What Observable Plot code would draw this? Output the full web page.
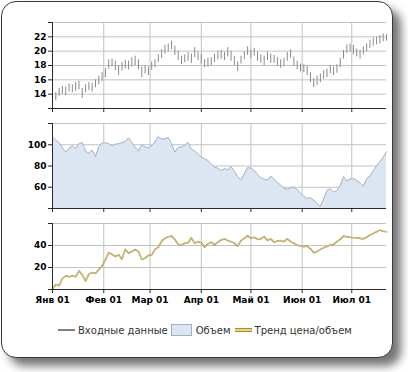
<!DOCTYPE html>
<html>
<head>
<meta charset="utf-8">
<script src="https://cdn.jsdelivr.net/npm/d3@7"></script>
<script src="https://cdn.jsdelivr.net/npm/@observablehq/plot@0.6"></script>
<style>
  html, body { margin: 0; padding: 0; background: #fff; }
  body { width: 408px; height: 372px; position: relative; overflow: hidden; font-family: "DejaVu Sans", sans-serif; }
  #frame { position: absolute; left: 1px; top: 1px; width: 390px; height: 355px; border: 1.5px solid #3a3a3a; border-radius: 15px; background: #fff; box-shadow: 8px 8px 10px rgba(0,0,0,0.55); }
  .panel { position: absolute; left: 0; }
  #legend { position: absolute; top: 324px; left: 58px; display: flex; align-items: center; font-size: 10px; color: #333; white-space: nowrap; }
  .sw-line { width: 17px; height: 2px; background: #808080; margin-right: 3px; }
  .sw-box { width: 19px; height: 10px; background: #dce6f2; border: 1px solid #9fb0c8; margin: 0 4px 0 3px; }
  .sw-gold { width: 17px; height: 2px; background: #f0d27a; border-top: 1px solid #a88a40; border-bottom: 1px solid #a88a40; margin: 0 3px 0 4px; }
</style>
</head>
<body>
<div id="frame"></div>
<div id="p1" class="panel" style="top:0px"></div>
<div id="p2" class="panel" style="top:114px"></div>
<div id="p3" class="panel" style="top:214px"></div>
<div id="legend">
  <div class="sw-line"></div><span>Входные данные</span>
  <div class="sw-box"></div><span>Объем</span>
  <div class="sw-gold"></div><span>Тренд цена/объем</span>
</div>
<script>
// ---- data (sampled every 2 days from 1 Jan 2001) ----
const startDate = [2001, 0, 1];
const stepDays = 2;
const priceLow = [12.9,13.1,13.7,14.0,13.8,14.3,14.2,14.4,14.6,13.4,14.2,14.5,14.3,14.9,15.3,15.8,16.3,17.5,17.8,17.3,
  16.6,17.2,17.5,17.4,17.8,18.0,17.4,16.3,16.8,16.6,17.3,17.7,18.4,19.0,19.6,19.9,20.2,19.4,18.7,18.1,
  18.4,18.6,18.3,19.1,18.7,18.2,17.7,17.8,18.0,18.4,18.8,18.9,18.7,19.2,18.6,18.0,17.1,18.2,18.8,19.4,
  19.0,19.3,18.6,18.3,18.0,18.7,18.3,18.3,17.9,17.6,17.8,18.6,19.0,17.9,17.4,17.1,17.0,16.6,15.6,14.9,
  15.2,15.6,16.1,16.3,16.8,16.6,16.9,17.7,18.9,19.7,19.9,19.5,19.2,18.9,19.5,19.9,20.4,20.7,20.9,21.0,
  21.3,21.4];
const priceHigh = [13.9,14.2,14.8,15.1,15.0,15.4,15.3,15.6,15.8,14.8,15.3,15.6,15.5,16.0,16.5,17.0,17.6,18.8,18.9,18.6,
  18.0,18.4,18.7,18.6,19.1,19.3,18.8,17.8,18.0,17.8,18.5,18.8,19.5,20.2,20.8,21.0,21.4,20.7,20.0,19.3,
  19.5,19.8,19.6,20.5,19.9,19.6,18.8,19.0,19.1,19.6,20.0,20.1,19.8,20.5,20.0,19.3,18.5,19.3,19.9,20.6,
  20.1,20.4,19.9,19.5,19.3,19.9,19.6,19.4,19.1,18.8,19.0,19.8,20.2,19.2,18.6,18.2,18.1,17.9,17.0,16.2,
  16.5,16.8,17.3,17.5,18.0,17.8,18.1,19.0,20.1,20.9,21.0,20.8,20.3,20.1,20.6,21.0,21.5,21.8,22.0,22.2,
  22.4,22.3];
const volume = [107.5,104.5,102,97,93,96.5,99,96.5,101,102,94,92,95,89,98,101.5,102,101,99,100.5,
  101,102,103,106.5,102,98,94,100,98,97,99,102.5,107.5,105.5,105.5,107,101,93,97.5,98,
  99.5,102,96,94,91.5,88.5,87,85,82,79,78,75.5,77.5,76.5,79.5,75,70,67,72.5,78.5,
  78,76,72,69,67.5,66.5,70.5,67.5,64.5,62,59,58,59.5,60,58,54.5,51.5,49.5,50,48,
  44.5,42,49,57,58.5,55.5,57,61.5,70,66,68,68,66.5,64,61,68,70.5,75.5,80,84,
  88,93.5];
const trend = [0.5,4.5,3.5,10,12.5,11.5,12.5,11.5,17,13.5,7.5,14,15.5,14.5,18,21.5,27,33.5,32,30,
  31.5,27.5,36.5,33,34.5,36.5,34.5,27.5,28.5,31,31.5,36.5,38.5,44,46.5,48,48.5,45.5,41,40.5,
  42,42.5,47,42,43.5,42.5,38.5,41.5,43,40.5,43,45,46,44.5,43.5,42,39.5,44.5,46.5,49,
  46.5,47.5,45.5,46,48,44.5,46,43,44,44.5,43.5,46,43.5,42,40.5,39.5,39,39.5,37,33.5,
  34.5,36.5,38,39,40.5,41,43.5,45.5,48.5,48,47.5,47,47,46.5,46,47.5,49.5,51,52.5,54,
  53,52.5];
const monthLabels = ["Янв 01","Фев 01","Мар 01","Апр 01","Май 01","Июн 01","Июл 01"];
const monthTicks = [0,1,2,3,4,5,6].map(m => new Date(Date.UTC(2001, m, 1)));
const xDomain = [new Date(Date.UTC(2001, 0, 1)), new Date(Date.UTC(2001, 6, 22))];
const priceTicks = [12,14,16,18,20,22,24];
const priceLabels = [14,16,18,20,22];
const volumeTicks = [40,60,80,100,120];
const volumeLabels = [60,80,100];
const trendTicks = [0,20,40,60];
const trendLabels = [20,40];

const dates = priceLow.map((_, i) => new Date(Date.UTC(startDate[0], startDate[1], startDate[2] + stepDays * i)));
const rows = dates.map((d, i) => ({date: d, low: priceLow[i], high: priceHigh[i], vol: volume[i], trend: trend[i]}));

const gridColor = "#c2c2c2";
const axisColor = "#2a2a2a";
const baseStyle = {fontFamily: "DejaVu Sans", fontSize: "9px", fontWeight: "bold", color: "#000", background: "transparent", overflow: "visible"};

function panel({height, marginTop, marginBottom, yDomain, yTicks, yLabels, series, xLabels}) {
  return Plot.plot({
    width: 408, height, marginLeft: 52, marginRight: 22, marginTop, marginBottom,
    style: baseStyle,
    x: {type: "utc", domain: xDomain, label: null},
    y: {domain: yDomain, label: null},
    marks: [
      Plot.gridX({ticks: monthTicks, stroke: gridColor, strokeOpacity: 1}),
      Plot.gridY({ticks: yTicks, stroke: gridColor, strokeOpacity: 1}),
      ...series,
      Plot.axisY({ticks: yTicks, tickSize: 4, tickPadding: 2, stroke: axisColor,
        tickFormat: d => yLabels.includes(d) ? String(d) : ""}),
      Plot.axisX({ticks: monthTicks, tickSize: 4, tickPadding: 3.5, stroke: axisColor,
        tickFormat: d => xLabels ? monthLabels[monthTicks.findIndex(t => +t === +d)] : ""}),
      Plot.ruleX([xDomain[0]], {stroke: axisColor}),
      Plot.ruleY([yDomain[0]], {stroke: axisColor})
    ]
  });
}

document.getElementById("p1").append(panel({
  height: 114, marginTop: 22, marginBottom: 6, yDomain: [12, 24], yTicks: priceTicks, yLabels: priceLabels,
  series: [Plot.ruleX(rows, {x: "date", y1: "low", y2: "high", stroke: "#8a8a8a", strokeWidth: 1})]
}));

document.getElementById("p2").append(panel({
  height: 100, marginTop: 9, marginBottom: 6, yDomain: [40, 120], yTicks: volumeTicks, yLabels: volumeLabels,
  series: [
    Plot.areaY(rows, {x: "date", y: "vol", fill: "#dce6f2", clip: true}),
    Plot.lineY(rows, {x: "date", y: "vol", stroke: "#a6b3c4", strokeWidth: 1})
  ]
}));

document.getElementById("p3").append(panel({
  height: 96, marginTop: 9, marginBottom: 21, yDomain: [0, 60], yTicks: trendTicks, yLabels: trendLabels, xLabels: true,
  series: [
    Plot.lineY(rows, {x: "date", y: "trend", stroke: "#a89050", strokeWidth: 1.6}),
    Plot.lineY(rows, {x: "date", y: "trend", stroke: "#f1d67e", strokeWidth: 0.7})
  ]
}));
</script>
</body>
</html>
